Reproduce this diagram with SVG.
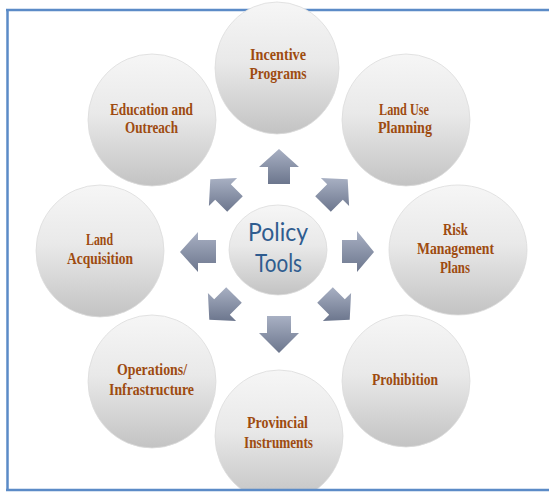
<svg xmlns="http://www.w3.org/2000/svg" width="549" height="492" viewBox="0 0 549 492">
<defs>
<linearGradient id="gCircle" x1="0" y1="0" x2="0" y2="1">
<stop offset="0" stop-color="#f6f6f6"/>
<stop offset="0.45" stop-color="#e9e9e9"/>
<stop offset="1" stop-color="#c3c3c3"/>
</linearGradient>
<linearGradient id="gArrow" x1="0" y1="0" x2="0" y2="1">
<stop offset="0" stop-color="#a8b0c3"/>
<stop offset="1" stop-color="#6c768d"/>
</linearGradient>
<style>
.frame{stroke:#5b8bc7;stroke-width:2.5;fill:none}
.c{fill:url(#gCircle);stroke:#dcdcdc;stroke-width:0.8}
.a{fill:url(#gArrow)}
.t{font-family:"Liberation Serif","Times New Roman",serif;font-weight:bold;font-size:17px;fill:#9e4b10;text-anchor:middle}
.p{font-family:Lato,"Open Sans",sans-serif;font-size:25px;fill:#2f5c8f;text-anchor:middle}
</style>
</defs>
<rect width="549" height="492" fill="#ffffff"/>
<line class="frame" x1="6" y1="10" x2="549" y2="10"/>

<g id="incentive-programs">
<ellipse class="c" cx="277" cy="68" rx="62" ry="66"/>
<text class="t" x="278" y="60" textLength="56" lengthAdjust="spacingAndGlyphs">Incentive</text>
<text class="t" x="278" y="79" textLength="57" lengthAdjust="spacingAndGlyphs">Programs</text>
</g>
<g id="education-outreach">
<ellipse class="c" cx="152" cy="120" rx="64" ry="66"/>
<text class="t" x="151.5" y="115" textLength="83" lengthAdjust="spacingAndGlyphs">Education and</text>
<text class="t" x="151.5" y="133" textLength="53" lengthAdjust="spacingAndGlyphs">Outreach</text>
</g>
<g id="land-use-planning">
<ellipse class="c" cx="406" cy="120" rx="64" ry="66"/>
<text class="t" x="404" y="115" textLength="50" lengthAdjust="spacingAndGlyphs">Land Use</text>
<text class="t" x="405" y="133" textLength="54" lengthAdjust="spacingAndGlyphs">Planning</text>
</g>
<g id="land-acquisition">
<ellipse class="c" cx="100" cy="251" rx="64" ry="66"/>
<text class="t" x="99.5" y="245" textLength="27" lengthAdjust="spacingAndGlyphs">Land</text>
<text class="t" x="100" y="264" textLength="66" lengthAdjust="spacingAndGlyphs">Acquisition</text>
</g>
<g id="risk-management-plans">
<ellipse class="c" cx="458" cy="250" rx="69" ry="65"/>
<text class="t" x="455.5" y="235" textLength="25" lengthAdjust="spacingAndGlyphs">Risk</text>
<text class="t" x="455.5" y="254" textLength="77" lengthAdjust="spacingAndGlyphs">Management</text>
<text class="t" x="455" y="273" textLength="30" lengthAdjust="spacingAndGlyphs">Plans</text>
</g>
<g id="operations-infrastructure">
<ellipse class="c" cx="152" cy="381.5" rx="64" ry="66.5"/>
<text class="t" x="152" y="375" textLength="70" lengthAdjust="spacingAndGlyphs">Operations/</text>
<text class="t" x="151.5" y="395" textLength="85" lengthAdjust="spacingAndGlyphs">Infrastructure</text>
</g>
<g id="prohibition">
<ellipse class="c" cx="406" cy="381" rx="64" ry="66"/>
<text class="t" x="405" y="385" textLength="66" lengthAdjust="spacingAndGlyphs">Prohibition</text>
</g>
<g id="provincial-instruments">
<ellipse class="c" cx="279" cy="436" rx="64" ry="66"/>
<text class="t" x="277.5" y="428" textLength="61" lengthAdjust="spacingAndGlyphs">Provincial</text>
<text class="t" x="278.5" y="448" textLength="69" lengthAdjust="spacingAndGlyphs">Instruments</text>
</g>
<g id="policy-tools">
<ellipse class="c" cx="278" cy="250" rx="49" ry="45"/>
<text class="p" x="278" y="241" textLength="60" lengthAdjust="spacingAndGlyphs">Policy</text>
<text class="p" x="278.5" y="272" textLength="47" lengthAdjust="spacingAndGlyphs">Tools</text>
</g>

<g id="connectors">
<polygon class="a" points="279,149 299,167 290,167 290,184 268,184 268,167 259,167"/>
<polygon class="a" points="279,353 299,333 291,333 291,316 267,316 267,333 259,333"/>
<polygon class="a" points="180,252 198,232 198,240 216,240 216,263 198,263 198,272"/>
<polygon class="a" points="374,252 357,231 357,240 342,240 342,263 357,263 357,272"/>
<polygon class="a" points="347.7,179.3 349.1,206.1 342.8,199.8 330.8,211.8 315.2,196.2 327.2,184.2 320.9,177.9"/>
<polygon class="a" points="210.3,179.3 208.9,206.1 215.2,199.8 227.2,211.8 242.8,196.2 230.8,184.2 237.1,177.9"/>
<polygon class="a" points="349.7,319.7 351.1,292.9 344.8,299.2 332.8,287.2 317.2,302.8 329.2,314.8 322.9,321.1"/>
<polygon class="a" points="209.3,319.7 207.9,292.9 214.2,299.2 226.2,287.2 241.8,302.8 229.8,314.8 236.1,321.1"/>
</g>

<rect x="0" y="491" width="549" height="1" fill="#ffffff"/>
<line class="frame" x1="7.5" y1="9" x2="7.5" y2="491"/>
<line class="frame" x1="6" y1="490" x2="549" y2="490"/>
</svg>
